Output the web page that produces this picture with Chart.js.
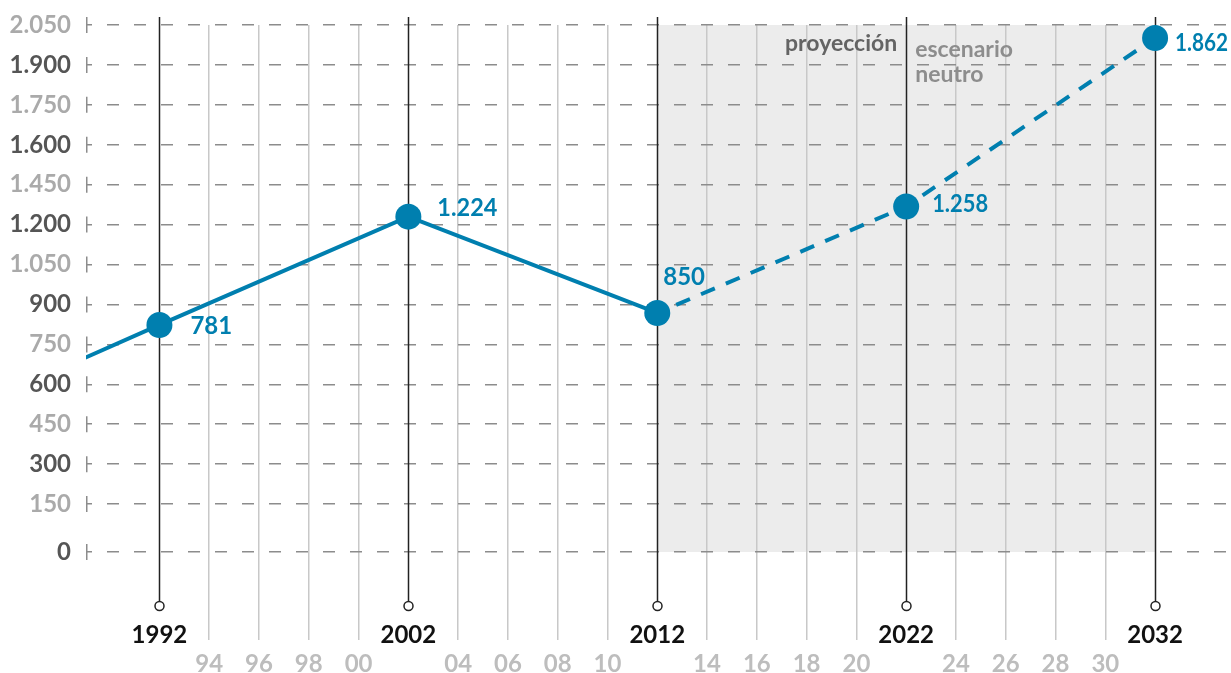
<!DOCTYPE html>
<html lang="es">
<head>
<meta charset="utf-8">
<title>Proyección</title>
<script src="https://cdn.jsdelivr.net/npm/chart.js@4.4.1/dist/chart.umd.min.js"></script>
<style>
    html, body { margin: 0; padding: 0; background: #fff; overflow: hidden; }
    #wrap { width: 1231px; height: 673px; position: relative; }
</style>
</head>
<body>
<div id="wrap"><canvas id="chart"></canvas></div>
<script>
// ================= DATA =================

// años de la serie (el primero es donde la línea entra por el borde izquierdo)
const years = [1989, 1992, 2002, 2012, 2022, 2032];
// valores leídos sobre la escala dibujada del eje
const values = [699, 823, 1230, 868, 1268, 1901];
// cifras impresas junto a cada punto
const valueLabels = [null, "781", "1.224", "850", "1.258", "1.862"];

// eje Y: posición de cada marca y el texto que lleva
const yTickValues = [0, 150, 300, 450, 600, 750, 900, 1050, 1200, 1350, 1500, 1650, 1800, 1950];
const yTickLabels = ["0", "150", "300", "450", "600", "750", "900", "1.050", "1.200",
                     "1.450", "1.600", "1.750", "1.900", "2.050"];

// eje X
const xTickYears = [1992, 1994, 1996, 1998, 2000, 2002, 2004, 2006, 2008, 2010, 2012,
                    2014, 2016, 2018, 2020, 2022, 2024, 2026, 2028, 2030, 2032];
const majorYears = [1992, 2002, 2012, 2022, 2032];

const projectionFrom = 2012;
const projectionTo = 2032;

// ================= STYLE =================

const BLUE = "#007faf";
const FONT = "Lato";
const zeroDrop = -30;   // la línea del 0 está algo más abajo que el resto del paso

const isMajor = v => majorYears.includes(v);

// ================= PLUGIN =================

const decor = {
    id: "decor",

    beforeDraw(chart) {
        const { ctx, scales: { x, y } } = chart;

        // fondo gris de la proyección
        const x0 = x.getPixelForValue(projectionFrom);
        const x1 = x.getPixelForValue(projectionTo);
        const yTop = y.getPixelForValue(y.ticks[y.ticks.length - 1].value);
        const yBot = y.getPixelForValue(y.ticks[0].value);

        ctx.save();
        ctx.fillStyle = "#ececec";
        ctx.fillRect(x0, yTop, x1 - x0, yBot - yTop);
        ctx.restore();
    },

    beforeDatasetsDraw(chart) {
        const { ctx, chartArea, scales: { x, y } } = chart;

        ctx.save();

        // marcas ⊢ del eje Y
        ctx.strokeStyle = "#8c8c8c";
        ctx.lineWidth = 1.5;
        y.ticks.forEach(t => {
            const py = y.getPixelForValue(t.value);
            ctx.beginPath();
            ctx.moveTo(chartArea.left + 0.75, py - 8);
            ctx.lineTo(chartArea.left + 0.75, py + 8);
            ctx.stroke();
        });

        // líneas de los años principales con el círculo al pie
        const foot = chartArea.bottom - 4;
        majorYears.forEach(yr => {
            const px = Math.round(x.getPixelForValue(yr)) + 0.5;
            ctx.strokeStyle = "#222";
            ctx.lineWidth = 1.5;
            ctx.beginPath();
            ctx.moveTo(px, chartArea.top - 8);
            ctx.lineTo(px, foot - 4.5);
            ctx.stroke();

            ctx.beginPath();
            ctx.arc(px, foot, 4.5, 0, Math.PI * 2);
            ctx.fillStyle = "#fff";
            ctx.fill();
            ctx.stroke();
        });

        // textos de la proyección
        const p2022 = x.getPixelForValue(2022);
        ctx.font = `bold 23px ${FONT}`;
        ctx.textBaseline = "alphabetic";
        ctx.fillStyle = "#646464";
        ctx.textAlign = "right";
        ctx.fillText("proyección", p2022 - 9, chartArea.top + 26);
        ctx.fillStyle = "#8d8d8d";
        ctx.textAlign = "left";
        ctx.fillText("escenario", p2022 + 9, chartArea.top + 32);
        ctx.fillText("neutro", p2022 + 9, chartArea.top + 57);

        ctx.restore();
    },

    afterDatasetsDraw(chart) {
        const { ctx } = chart;
        const meta = chart.getDatasetMeta(0);

        // [x, línea base, ancho máximo] de cada cifra respecto a su punto
        const offsets = [null, [31, 9, 60], [29, -1, 60], [6, -28, 60], [26, 5, 56], [20, 13, 53]];

        ctx.save();
        ctx.font = `bold 24px ${FONT}`;
        ctx.fillStyle = BLUE;
        ctx.textAlign = "left";
        ctx.textBaseline = "alphabetic";
        meta.data.forEach((pt, i) => {
            if (!valueLabels[i]) return;
            const [dx, dy, w] = offsets[i];
            ctx.fillText(valueLabels[i], pt.x + dx, pt.y + dy, w);
        });
        ctx.restore();
    }
};

// ================= CHART =================

new Chart(document.getElementById("chart"), {
    type: "line",
    data: {
        datasets: [{
            data: years.map((yr, i) => ({ x: yr, y: values[i] })),
            borderColor: BLUE,
            backgroundColor: BLUE,
            borderWidth: 4,
            tension: 0,
            pointRadius: ctx => ctx.dataIndex === 0 ? 0 : 13,
            pointHoverRadius: ctx => ctx.dataIndex === 0 ? 0 : 13,
            pointBorderWidth: 0,
            pointBackgroundColor: BLUE,
            segment: {
                borderDash: ctx => ctx.p0.parsed.x >= projectionFrom ? [15, 12] : undefined,
                borderDashOffset: ctx => ctx.p0.parsed.x >= projectionFrom ? 6.4 : 0
            }
        }]
    },
    options: {
        responsive: true,
        maintainAspectRatio: false,
        animation: false,
        events: [],
        layout: {
            autoPadding: false,
            padding: { top: 25, right: 0, bottom: 0, left: 0 }
        },
        plugins: {
            legend: { display: false },
            tooltip: { enabled: false }
        },
        scales: {
            x: {
                type: "linear",
                min: 1989.05,
                max: 2035.05,
                afterBuildTicks: s => { s.ticks = xTickYears.map(v => ({ value: v })); },
                afterFit: s => {
                    s.height = 63;
                    s.paddingLeft = 0;
                    s.paddingRight = 0;
                },
                border: { display: false },
                grid: {
                    color: ctx => ctx.tick && isMajor(ctx.tick.value) ? "rgba(0,0,0,0)" : "#c8c8c8",
                    tickColor: ctx => ctx.tick && isMajor(ctx.tick.value) ? "rgba(0,0,0,0)" : "#c8c8c8",
                    lineWidth: 1.5,
                    tickWidth: 1.5,
                    drawTicks: true,
                    tickLength: 30
                },
                ticks: {
                    autoSkip: false,
                    maxRotation: 0,
                    padding: -19.5,
                    font: { family: FONT, weight: "bold", size: 24, lineHeight: "29px" },
                    color: ctx => isMajor(ctx.tick.value) ? "#111" : "#bdbdbd",
                    callback: v => isMajor(v) ? [String(v), ""] : ["", String(v).slice(2)]
                }
            },
            y: {
                type: "linear",
                min: -248,
                max: 1950,
                afterBuildTicks: s => {
                    s.ticks = yTickValues.map((v, i) => ({ value: i === 0 ? zeroDrop : v }));
                },
                afterFit: s => {
                    s.width = 86;
                    s.paddingTop = 0;
                    s.paddingBottom = 0;
                },
                border: { display: false, dash: [12, 15], dashOffset: 6 },
                grid: {
                    color: "#8c8c8c",
                    lineWidth: 1.5,
                    drawTicks: false
                },
                ticks: {
                    autoSkip: false,
                    padding: 15,
                    font: { family: FONT, weight: "bold", size: 24 },
                    color: ctx => ctx.index % 2 === 0 ? "#555" : "#aaa",
                    callback: (v, i) => yTickLabels[i]
                }
            }
        }
    },
    plugins: [decor]
});
</script>
</body>
</html>
